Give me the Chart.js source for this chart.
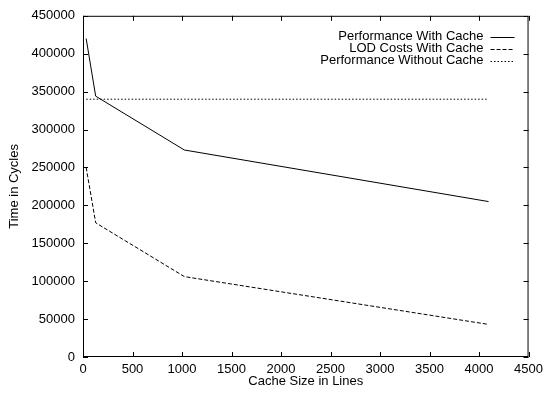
<!DOCTYPE html>
<html>
<head>
<meta charset="utf-8">
<script src="https://cdn.jsdelivr.net/npm/chart.js@4.4.0/dist/chart.umd.min.js"></script>
<style>
  html, body { margin: 0; padding: 0; background: #fff; }
</style>
</head>
<body>
<canvas id="chart" width="548" height="394"></canvas>
<script>
// valeurs
const cacheSizes = [32, 128, 1024, 4096];
const perfWithCache = [420000, 344000, 273000, 205000];
const lodWithCache = [250000, 177000, 106000, 43000];
const perfWithoutCache = [340000, 340000, 340000, 340000];
const seriesNames = ['Performance With Cache', 'LOD Costs With Cache', 'Performance Without Cache'];
const xTicks = [0, 500, 1000, 1500, 2000, 2500, 3000, 3500, 4000, 4500];
const yTicks = [0, 50000, 100000, 150000, 200000, 250000, 300000, 350000, 400000, 450000];

const font = { family: '"Liberation Sans", Arial, sans-serif', size: 13 };

function toPoints(values) {
    return cacheSizes.map((x, i) => ({ x: x, y: values[i] }));
}

// cadre + graduations vers l'intérieur + légende façon gnuplot
const gnuplotFrame = {
    id: 'gnuplotFrame',
    afterDatasetsDraw(chart) {
        const { ctx, chartArea: a, scales } = chart;
        const tick = 5;
        ctx.save();
        ctx.strokeStyle = '#000';
        ctx.lineWidth = 1;
        ctx.setLineDash([]);
        ctx.strokeRect(a.left + 0.5, a.top + 0.5, a.right - a.left - 1, a.bottom - a.top - 1);
        ctx.beginPath();
        xTicks.forEach(v => {
            const px = Math.round(scales.x.getPixelForValue(v)) + 0.5;
            ctx.moveTo(px, a.bottom); ctx.lineTo(px, a.bottom - tick);
            ctx.moveTo(px, a.top); ctx.lineTo(px, a.top + tick);
        });
        yTicks.forEach(v => {
            const py = Math.round(scales.y.getPixelForValue(v)) + 0.5;
            ctx.moveTo(a.left, py); ctx.lineTo(a.left + tick, py);
            ctx.moveTo(a.right, py); ctx.lineTo(a.right - tick, py);
        });
        ctx.stroke();

        // légende
        ctx.font = font.size + 'px ' + font.family;
        ctx.fillStyle = '#000';
        ctx.textAlign = 'right';
        ctx.textBaseline = 'middle';
        const textRight = a.right - 45;
        chart.data.datasets.forEach((ds, i) => {
            const yy = a.top + 21 + i * 12;
            ctx.fillText(ds.label, textRight, yy);
            ctx.beginPath();
            ctx.setLineDash(ds.borderDash || []);
            ctx.lineWidth = ds.borderWidth;
            ctx.moveTo(textRight + 7, Math.round(yy) + 0.5);
            ctx.lineTo(textRight + 31, Math.round(yy) + 0.5);
            ctx.stroke();
        });
        ctx.restore();
    }
};

const ctx = document.getElementById('chart').getContext('2d');
new Chart(ctx, {
    type: 'line',
    data: {
        datasets: [
            { label: seriesNames[0], data: toPoints(perfWithCache), borderColor: '#000', borderWidth: 1, borderDash: [] },
            { label: seriesNames[1], data: toPoints(lodWithCache), borderColor: '#000', borderWidth: 1, borderDash: [4, 2] },
            { label: seriesNames[2], data: toPoints(perfWithoutCache), borderColor: '#000', borderWidth: 1, borderDash: [1.5, 2] }
        ]
    },
    options: {
        responsive: false,
        animation: false,
        layout: { padding: { top: 11, right: 15, left: 0, bottom: 0 } },
        elements: { point: { radius: 0 }, line: { tension: 0, fill: false } },
        plugins: { legend: { display: false }, tooltip: { enabled: false } },
        scales: {
            x: {
                type: 'linear',
                min: 0,
                max: 4500,
                afterFit: scale => { scale.height = 37; },
                afterBuildTicks: scale => { scale.ticks = xTicks.map(v => ({ value: v })); },
                grid: { display: false, drawTicks: false },
                border: { display: false },
                ticks: { color: '#000', font: font, padding: 5, maxRotation: 0, autoSkip: false, callback: v => String(v) },
                title: { display: true, text: 'Cache Size in Lines', color: '#000', font: font, padding: { top: 0, bottom: 5 } }
            },
            y: {
                type: 'linear',
                min: 0,
                max: 450000,
                afterFit: scale => { scale.width = 83; },
                afterBuildTicks: scale => { scale.ticks = yTicks.map(v => ({ value: v })); },
                grid: { display: false, drawTicks: false },
                border: { display: false },
                ticks: { color: '#000', font: font, padding: 8, autoSkip: false, callback: v => String(v) },
                title: { display: true, text: 'Time in Cycles', color: '#000', font: font, padding: { top: 7, bottom: 0 } }
            }
        }
    },
    plugins: [gnuplotFrame]
});
</script>
</body>
</html>
